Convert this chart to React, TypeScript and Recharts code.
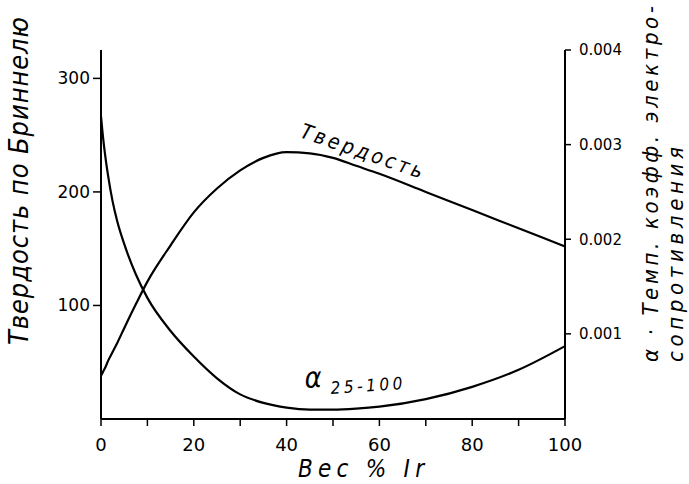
import { LineChart, Line, XAxis, YAxis, Customized } from 'recharts';

// Вес % Ir
const irContent = [0, 0.5, 1, 1.5, 2.5, 3.5, 5, 7.5, 10, 15, 20, 25, 30, 35, 40, 45, 50, 55, 60, 70, 80, 90, 100];
// Твердость по Бриннелю
const hardness = [38, 42, 46, 51, 59, 67, 80, 101, 121, 153, 182, 203, 219, 230, 235, 234, 230, 223, 216, 200, 184, 168, 152];
// α 25-100, темп. коэфф. электросопротивления
const alpha = [
  0.0033, 0.00305, 0.00285, 0.00268, 0.0024, 0.00219, 0.00195, 0.00163, 0.00138, 0.00103, 0.00076,
  0.00053, 0.00036, 0.00027, 0.00022, 0.0002, 0.0002, 0.00021, 0.00023, 0.00031, 0.00044, 0.00062, 0.00087,
];

const xTicks = [0, 10, 20, 30, 40, 50, 60, 70, 80, 90, 100];
const leftTicks = [100, 200, 300];
const rightTicks = [0.001, 0.002, 0.003, 0.004];

const data = irContent.map((x, i) => ({ x, hardness: hardness[i], alpha: alpha[i] }));

const FONT = '"DejaVu Sans", sans-serif';
const TITLE_FONT = '"DejaVu Sans Condensed", "DejaVu Sans", sans-serif';

const Titles = () => (
  <g fill="#000" fontFamily={TITLE_FONT} fontStyle="italic">
    <text transform="translate(28,181) rotate(-90)" textAnchor="middle" fontSize={27} textLength={328} lengthAdjust="spacing">
      Твердость по Бриннелю
    </text>
    <text transform="translate(658,362) rotate(-90)" textAnchor="start" fontSize={22} textLength={356} lengthAdjust="spacing">
      α · Темп. коэфф. электро-
    </text>
    <text transform="translate(683,362) rotate(-90)" textAnchor="start" fontSize={22} textLength={215} lengthAdjust="spacing">
      сопротивления
    </text>
    <text x={298} y={477} fontSize={24} textLength={126} lengthAdjust="spacing">
      Вес % Ir
    </text>
    <text transform="translate(299,137) rotate(19)" fontSize={21} textLength={128} lengthAdjust="spacing">
      Твердость
    </text>
    <text transform="translate(305,388) rotate(-3)" fontSize={29}>
      α
    </text>
    <text transform="translate(331,394) rotate(-4)" fontSize={17} textLength={72} lengthAdjust="spacing">
      25-100
    </text>
  </g>
);

export default function App() {
  return (
    <div style={{ position: 'absolute', left: 0, top: 0, background: '#fff' }}>
      <LineChart width={689} height={484} data={data} margin={{ top: 50, right: 54, bottom: 35, left: 41 }}>
        <XAxis
          dataKey="x"
          type="number"
          domain={[0, 100]}
          ticks={xTicks}
          interval={0}
          tickFormatter={(v: number) => (v % 20 === 0 ? String(v) : '')}
          height={30}
          tickSize={7}
          tickMargin={12}
          axisLine={{ stroke: '#000', strokeWidth: 2 }}
          tickLine={{ stroke: '#000', strokeWidth: 1.5 }}
          tick={{ fill: '#000', fontSize: 18, fontFamily: FONT }}
        />
        <YAxis
          yAxisId="left"
          domain={[0, 325]}
          ticks={leftTicks}
          interval={0}
          width={60}
          tickSize={8}
          tickMargin={3}
          axisLine={{ stroke: '#000', strokeWidth: 2 }}
          tickLine={{ stroke: '#000', strokeWidth: 1.5 }}
          tick={{ fill: '#000', fontSize: 17, fontFamily: FONT }}
        />
        <YAxis
          yAxisId="right"
          orientation="right"
          domain={[0.0001, 0.004]}
          ticks={rightTicks}
          interval={0}
          width={70}
          tickSize={6}
          tickMargin={8}
          tickFormatter={(v: number) => v.toFixed(3)}
          axisLine={{ stroke: '#000', strokeWidth: 2 }}
          tickLine={{ stroke: '#000', strokeWidth: 1.5 }}
          tick={{ fill: '#000', fontSize: 15, fontFamily: FONT }}
        />
        <Line yAxisId="left" dataKey="hardness" type="monotone" stroke="#000" strokeWidth={2.2} dot={false} isAnimationActive={false} />
        <Line yAxisId="right" dataKey="alpha" type="monotone" stroke="#000" strokeWidth={2.2} dot={false} isAnimationActive={false} />
        <Customized component={<Titles />} />
      </LineChart>
    </div>
  );
}
